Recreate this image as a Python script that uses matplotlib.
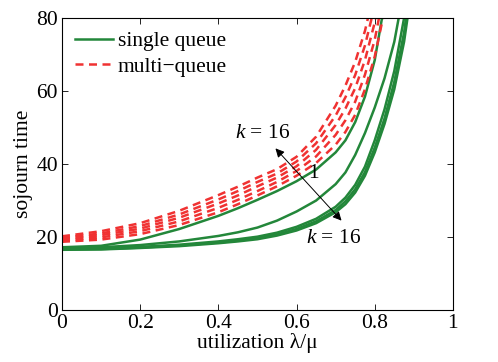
import matplotlib
matplotlib.use("Agg")
import matplotlib.pyplot as plt

plt.rcParams['font.family'] = ['Liberation Serif', 'DejaVu Serif']
plt.rcParams['mathtext.fontset'] = 'custom'
plt.rcParams['mathtext.rm'] = 'Liberation Serif'
plt.rcParams['mathtext.it'] = 'Liberation Serif:italic'

# --- data ---
x_red = [0, 0.1, 0.2, 0.3, 0.4, 0.45, 0.5, 0.55, 0.6, 0.65, 0.7, 0.725, 0.75, 0.775, 0.8,
         0.825, 0.85]
red_k1 = [18.7, 19.3, 20.8, 23.3, 26.8, 29.0, 31.4, 33.9, 36.8, 40.3, 45.3, 48.8, 53.5, 60.5,
          69.5, 82.0, 100]
red_k2 = [19.1, 19.9, 21.6, 24.3, 28.0, 30.2, 32.6, 35.1, 38.1, 42.1, 48.0, 52.0, 57.1, 64.5,
          74.1, 87.8, 106]
red_k4 = [19.5, 20.5, 22.3, 25.3, 29.2, 31.4, 33.9, 36.3, 39.4, 43.9, 50.7, 55.2, 60.8, 68.5,
          78.8, 93.5, 112]
red_k8 = [19.8, 21.0, 23.0, 26.2, 30.3, 32.6, 35.1, 37.4, 40.7, 45.7, 53.3, 58.3, 64.4, 72.5,
          83.4, 99.3, 118]
red_k16 = [20.2, 21.6, 23.8, 27.2, 31.5, 33.8, 36.3, 38.6, 42.0, 47.5, 56.0, 61.5, 68.0, 76.5,
           88.0, 105, 125]

x_green = [0, 0.1, 0.2, 0.3, 0.4, 0.45, 0.5, 0.55, 0.6, 0.65, 0.7, 0.725, 0.75, 0.775, 0.8,
           0.825, 0.85, 0.875, 0.9]
green_k1 = [17.2, 17.6, 19.3, 22.2, 25.8, 27.9, 30.2, 32.6, 35.3, 38.5, 43.2, 46.5, 51.5, 58.5,
            68.5, 84.0, 105, 130, 160]
green_k2 = [17.0, 17.2, 17.8, 18.8, 20.3, 21.3, 22.6, 24.5, 27.0, 30.0, 34.5, 37.7, 42.5, 48.5,
            55.5, 63.5, 73.5, 88.0, 108]
green_k4 = [16.8, 16.9, 17.3, 17.9, 18.8, 19.4, 20.1, 21.2, 22.8, 25.0, 28.3, 30.8, 34.3, 39.3,
            46.5, 55.0, 65.5, 80.0, 100]
green_k8 = [16.6, 16.7, 17.1, 17.7, 18.5, 19.0, 19.7, 20.7, 22.2, 24.3, 27.4, 29.8, 33.1, 37.8,
            44.5, 52.5, 62.5, 76.0, 96]
green_k16 = [16.5, 16.6, 17.0, 17.5, 18.3, 18.8, 19.4, 20.4, 21.8, 23.8, 26.8, 29.0, 32.2, 36.8,
             43.2, 51.0, 60.5, 73.5, 92]

xticks = [0, 0.2, 0.4, 0.6, 0.8, 1]
xtick_labels = ['0', '0.2', '0.4', '0.6', '0.8', '1']
yticks = [0, 20, 40, 60, 80]

GREEN = '#23873a'
RED = '#f03232'
FS = 15.5

fig = plt.figure(figsize=(4.98, 3.62), dpi=100)
ax = fig.add_axes([0.1245, 0.1436, 0.785, 0.8064])

for i, ys in enumerate([green_k1, green_k2, green_k4, green_k8, green_k16]):
    ax.plot(x_green, ys, color=GREEN, lw=1.8, label='single queue' if i == 0 else None)
for i, ys in enumerate([red_k1, red_k2, red_k4, red_k8, red_k16]):
    ax.plot(x_red, ys, color=RED, lw=1.8, ls=(0, (3.2, 2.2)),
            label='multi\u2212queue' if i == 0 else None)

ax.set_xlim(0, 1)
ax.set_ylim(0, 80)
ax.set_xticks(xticks)
ax.set_xticklabels(xtick_labels)
ax.set_yticks(yticks)
ax.tick_params(direction='in', top=True, right=True, labelsize=FS, length=4, width=0.6,
               pad=3)
for s in ax.spines.values():
    s.set_linewidth(0.8)

ax.set_xlabel('utilization \u03bb/\u03bc', fontsize=FS, labelpad=0)
ax.set_ylabel('sojourn time', fontsize=FS, labelpad=2)

ax.legend(loc='upper left', frameon=False, fontsize=FS, handlelength=1.75,
          handletextpad=0.25, borderaxespad=0.2, labelspacing=0.26)

# double arrow with k labels
ax.annotate('', xy=(0.546, 44.3), xytext=(0.715, 24.5),
            arrowprops=dict(arrowstyle='<|-|>', color='black', lw=0.7,
                            mutation_scale=13, shrinkA=0, shrinkB=0))
ax.text(0.513, 48.5, r'$k$ = 16', fontsize=FS, ha='center', va='center')
ax.text(0.643, 37.5, '1', fontsize=FS, ha='center', va='center')
ax.text(0.694, 19.6, r'$k$ = 16', fontsize=FS, ha='center', va='center')

fig.savefig('out.png', dpi=100)
